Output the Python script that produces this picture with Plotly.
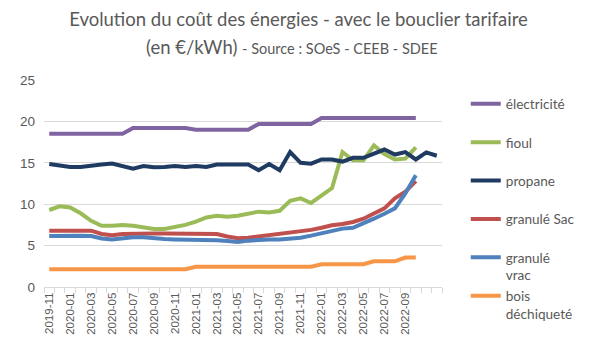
import plotly.graph_objects as go

months = ["2019-11", "2019-12", "2020-01", "2020-02", "2020-03", "2020-04", "2020-05", "2020-06",
          "2020-07", "2020-08", "2020-09", "2020-10", "2020-11", "2020-12", "2021-01", "2021-02",
          "2021-03", "2021-04", "2021-05", "2021-06", "2021-07", "2021-08", "2021-09", "2021-10",
          "2021-11", "2021-12", "2022-01", "2022-02", "2022-03", "2022-04", "2022-05", "2022-06",
          "2022-07", "2022-08", "2022-09", "2022-10", "2022-11", "2022-12"]
tick_labels = [m if i % 2 == 0 and m <= "2022-09" else "" for i, m in enumerate(months)]

electricite = [18.5] * 8 + [19.2] * 6 + [19.0] * 6 + [19.7] * 6 + [20.4] * 10
fioul = [9.3, 9.75, 9.6, 8.9, 8.0, 7.4, 7.4, 7.5, 7.4, 7.2, 7.0, 7.0, 7.2, 7.5, 7.9, 8.4,
         8.6, 8.5, 8.6, 8.8, 9.1, 9.0, 9.2, 10.4, 10.7, 10.15, 11.0, 11.95, 16.3, 15.3, 15.3,
         17.1, 16.05, 15.4, 15.5, 16.85]
propane = [14.85, 14.65, 14.5, 14.5, 14.7, 14.8, 14.9, 14.6, 14.3, 14.6, 14.45, 14.5, 14.6,
           14.5, 14.6, 14.5, 14.8, 14.8, 14.8, 14.8, 14.1, 14.85, 14.1, 16.3, 15.0, 14.9, 15.4,
           15.4, 15.15, 15.6, 15.6, 16.1, 16.6, 16.0, 16.3, 15.4, 16.25, 15.85]
granule_sac = [6.8, 6.8, 6.9, 6.85, 6.8, 6.4, 6.25, 6.4, 6.45, 6.45, 6.45, 6.45, 6.45, 6.5,
               6.5, 6.5, 6.4, 6.1, 5.9, 5.95, 6.1, 6.25, 6.4, 6.5, 6.7, 6.9, 7.15, 7.45, 7.6,
               7.85, 8.25, 8.85, 9.5, 10.7, 11.5, 12.8]
granule_vrac = [6.15, 6.2, 6.2, 6.2, 6.15, 5.85, 5.75, 5.9, 6.0, 6.0, 5.85, 5.8, 5.75, 5.75,
                5.7, 5.7, 5.65, 5.55, 5.45, 5.6, 5.7, 5.75, 5.75, 5.85, 5.95, 6.2, 6.5, 6.85,
                7.05, 7.15, 7.65, 8.25, 8.85, 9.5, 11.3, 13.5]
bois = [2.15] * 14 + [2.45] * 12 + [2.75] * 5 + [3.1] * 3 + [3.55] * 2

series = [
    ("électricité<br> ", electricite, "#8064A2"),
    ("fioul<br> ", fioul, "#9BBB59"),
    ("propane<br> ", propane, "#1F3B62"),
    ("granulé Sac<br> ", granule_sac, "#C0504D"),
    ("granulé<br>vrac", granule_vrac, "#4F81BD"),
    ("bois<br>déchiqueté", bois, "#F79646"),
]

fig = go.Figure()
for i, (name, vals, color) in enumerate(series):
    fig.add_trace(go.Scatter(
        x=months[:len(vals)], y=vals, name=name, mode="lines",
        line=dict(color=color, width=4), legendgroup=f"g{i}",
    ))

gray = "#595959"
# the page body adds an 8px offset: margins are reduced accordingly
L, T, W, H = 32, 72, 402, 207
fig.update_layout(
    width=597, height=363,
    margin=dict(l=L, r=597 - L - W, t=T, b=363 - T - H),
    paper_bgcolor="white", plot_bgcolor="white",
    title=dict(
        text="Evolution du coût des énergies - avec le bouclier tarifaire",
        x=290.5 / 597, xref="container", xanchor="center",
        y=1 - 12 / 363, yref="container", yanchor="middle",
        font=dict(family="Lato", size=18.5, color=gray),
    ),
    legend=dict(
        x=(458 - L) / W, y=1 - (80.5 - T) / H, xanchor="left", yanchor="top",
        font=dict(family="Lato", size=13.6, color=gray),
        valign="top", tracegroupgap=0, itemwidth=30, maxheight=400,
        bgcolor="rgba(0,0,0,0)",
    ),
    showlegend=True,
)
fig.add_annotation(
    text="(en €/kWh) <span style='font-size:14.5px'>- Source : SOeS - CEEB - SDEE</span>",
    xref="paper", yref="paper", x=(282 - L) / W, y=1 + (T - 39) / H,
    xanchor="center", yanchor="middle", showarrow=False,
    font=dict(family="Lato", size=18.5, color=gray),
)
fig.update_xaxes(
    type="category", categoryorder="array", categoryarray=months,
    tickmode="array", tickvals=months, ticktext=tick_labels,
    tickson="boundaries", ticks="outside", ticklen=5, tickcolor="#D9D9D9",
    tickangle=-90, tickfont=dict(family="Liberation Sans", size=11.5, color=gray),
    showgrid=False, showline=True, linecolor="#D9D9D9", linewidth=1,
    range=[-0.5, len(months) - 0.5],
)
fig.update_yaxes(
    range=[0, 25], dtick=5, showgrid=True, gridcolor="#D9D9D9", gridwidth=1,
    zeroline=False, showline=False, ticks="", ticklabelstandoff=8,
    tickfont=dict(family="Liberation Sans", size=13.5, color=gray),
)

fig.write_html("out.html")
